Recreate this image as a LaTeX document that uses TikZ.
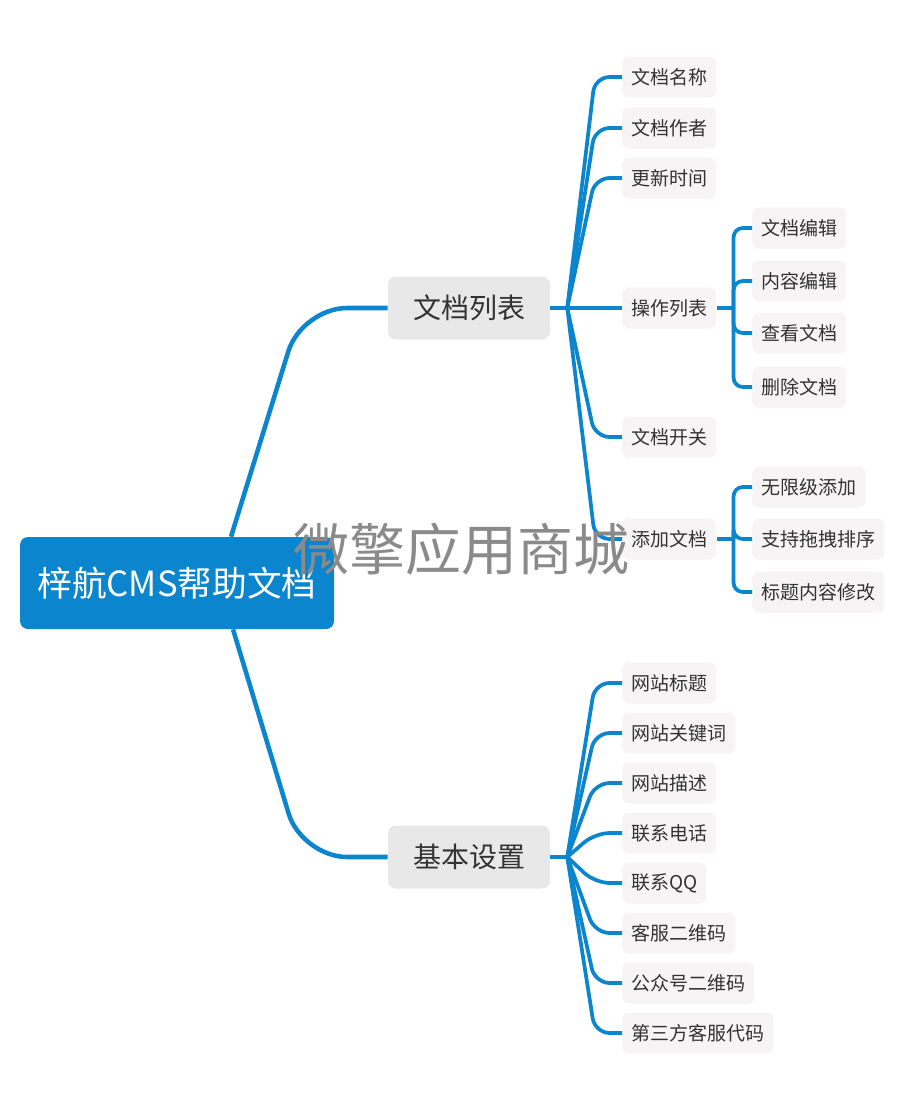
\documentclass[tikz,border=0pt]{standalone}
\usepackage{fontspec}
\newfontfamily\cjk{Noto Sans CJK SC}
\usetikzlibrary{calc}
\definecolor{mblue}{HTML}{0A85CE}
\definecolor{topicfill}{HTML}{E8E8E8}
\definecolor{leaffill}{HTML}{F6F4F4}
\definecolor{txt}{HTML}{333333}
\definecolor{wmark}{HTML}{8A8A8A}
\tikzset{
  rootbox/.style={fill=mblue, text=white, rounded corners=6pt, minimum width=235.5pt, minimum height=69pt, inner sep=0pt, font=\cjk\fontsize{26pt}{30pt}\selectfont},
  topicbox/.style={fill=topicfill, text=txt, rounded corners=6pt, minimum width=121.5pt, minimum height=47.25pt, inner sep=0pt, font=\cjk\fontsize{21pt}{25pt}\selectfont},
  leafbox/.style={fill=leaffill, text=txt, rounded corners=5pt, anchor=west, minimum height=30.75pt, inner xsep=6.75pt, inner ysep=0pt, font=\cjk\fontsize{14.25pt}{17pt}\selectfont},
  rootconn/.style={draw=mblue, line width=3.4pt, rounded corners=34pt},
  conn/.style={draw=mblue, line width=2.8pt, rounded corners=11pt},
  subconn/.style={draw=mblue, line width=2.8pt, rounded corners=7pt},
  wmtext/.style={text=wmark, font=\cjk\fontsize{42pt}{48pt}\selectfont}
}
\begin{document}
\begin{tikzpicture}[x=0.75pt,y=-0.75pt]
\useasboundingbox (0,0) rectangle (919,1104);

% root and topics
\node[rootbox] (root) at (177,583) {梓航CMS帮助文档};
\node[topicbox] (t1) at (469,308) {文档列表};
\node[topicbox] (t2) at (469,857) {基本设置};

% first group leaves
\node[leafbox] (a1) at (622,77) {文档名称};
\node[leafbox] (a2) at (622,128) {文档作者};
\node[leafbox] (a3) at (622,178) {更新时间};
\node[leafbox] (a4) at (622,308) {操作列表};
\node[leafbox] (a5) at (622,437) {文档开关};
\node[leafbox] (a6) at (622,539) {添加文档};

\node[leafbox] (b1) at (752,228) {文档编辑};
\node[leafbox] (b2) at (752,281) {内容编辑};
\node[leafbox] (b3) at (752,333) {查看文档};
\node[leafbox] (b4) at (752,387) {删除文档};

\node[leafbox] (d1) at (752,487) {无限级添加};
\node[leafbox] (d2) at (752,539) {支持拖拽排序};
\node[leafbox] (d3) at (752,592) {标题内容修改};

% second group leaves
\node[leafbox] (c1) at (622,683) {网站标题};
\node[leafbox] (c2) at (622,733) {网站关键词};
\node[leafbox] (c3) at (622,783) {网站描述};
\node[leafbox] (c4) at (622,833) {联系电话};
\node[leafbox] (c5) at (622,883) {联系QQ};
\node[leafbox] (c6) at (622,933) {客服二维码};
\node[leafbox] (c7) at (622,983) {公众号二维码};
\node[leafbox] (c8) at (622,1033) {第三方客服代码};

% root connectors
\draw[rootconn] ([xshift=40.5pt]root.north) -- ([xshift=-64.5pt]t1.west) -- (t1.west);
\draw[rootconn] ([xshift=42pt]root.south) -- ([xshift=-64.5pt]t2.west) -- (t2.west);

% hubs
\coordinate (h1) at ([xshift=12.75pt]t1.east);
\coordinate (h2) at ([xshift=12.75pt]t2.east);
\coordinate (s1) at ([xshift=12.75pt]a4.east);
\coordinate (s2) at ([xshift=12.75pt]a6.east);
\draw[draw=mblue, line width=3.2pt] (t1.east) -- (h1);
\draw[draw=mblue, line width=3.2pt] (t2.east) -- (h2);
\draw[draw=mblue, line width=2.8pt] (a4.east) -- (s1);
\draw[draw=mblue, line width=2.8pt] (a6.east) -- (s2);

\foreach \c in {a1,a2,a3,a4,a5,a6}{
  \draw[conn] (h1) -- ([xshift=-20.25pt]\c.west) -- (\c.west);
}
\foreach \c in {c1,c2,c3,c4,c5,c6,c7,c8}{
  \draw[conn] (h2) -- ([xshift=-20.25pt]\c.west) -- (\c.west);
}
\foreach \c in {b1,b2,b3,b4}{
  \draw[subconn] (s1) -- (s1 |- \c.west) -- (\c.west);
}
\foreach \c in {d1,d2,d3}{
  \draw[subconn] (s2) -- (s2 |- \c.west) -- (\c.west);
}

% watermark
\node[wmtext] (wm) at (461,549) {微擎应用商城};
\end{tikzpicture}
\end{document}
